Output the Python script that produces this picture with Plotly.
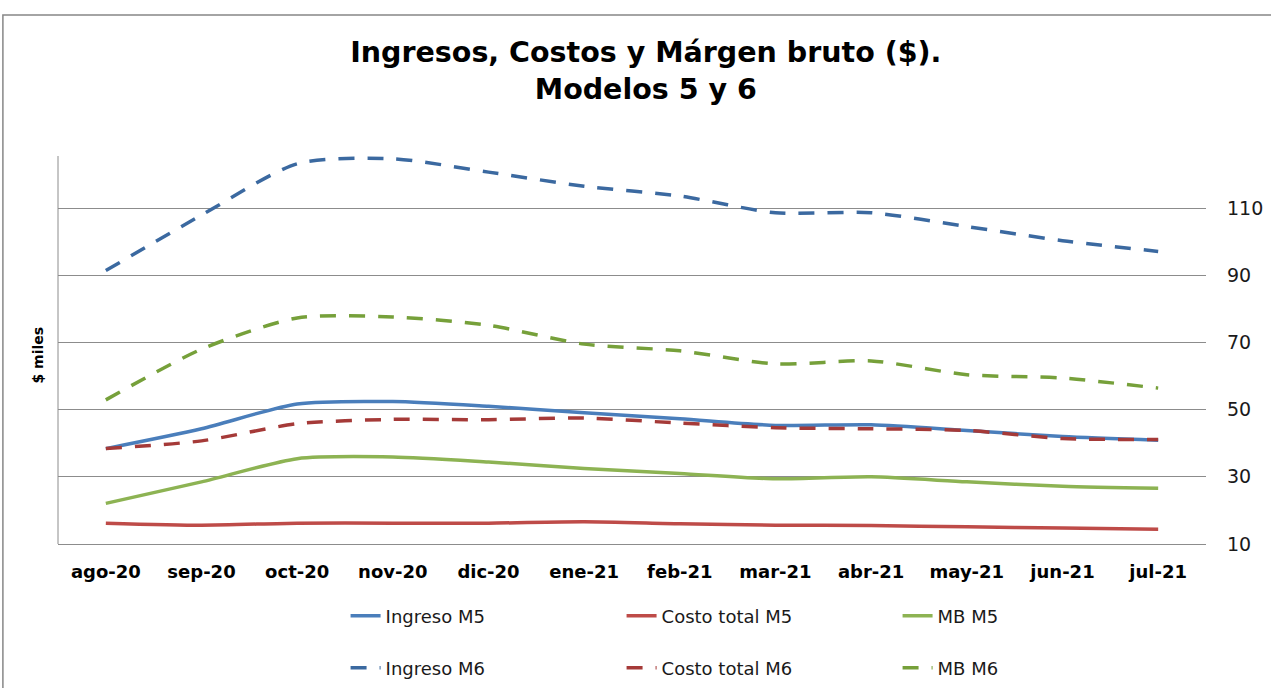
import plotly.graph_objects as go

months = ["ago-20", "sep-20", "oct-20", "nov-20", "dic-20", "ene-21",
          "feb-21", "mar-21", "abr-21", "may-21", "jun-21", "jul-21"]

ingreso_m5 = [38.4, 44.3, 51.7, 52.4, 51.0, 49.1, 47.3, 45.3, 45.5, 43.8, 42.0, 40.9]
costo_m5 = [16.2, 15.6, 16.2, 16.2, 16.2, 16.6, 16.0, 15.6, 15.5, 15.1, 14.8, 14.4]
mb_m5 = [22.1, 28.5, 35.4, 35.9, 34.4, 32.5, 31.0, 29.4, 30.0, 28.5, 27.2, 26.6]
ingreso_m6 = [91.4, 107.9, 123.2, 124.7, 120.7, 116.5, 113.6, 108.6, 108.6, 104.5, 100.3, 97.1]
costo_m6 = [38.4, 40.7, 45.8, 47.1, 47.0, 47.5, 46.0, 44.6, 44.3, 43.8, 41.4, 41.1]
mb_m6 = [52.9, 68.0, 77.3, 77.6, 75.1, 69.5, 67.5, 63.6, 64.5, 60.4, 59.4, 56.4]

y_ticks = [10, 30, 50, 70, 90, 110]

FONT = "DejaVu Sans"
DASH = "16px,13px"

series = [
    ("Ingreso M5", ingreso_m5, "#4A7EBB", "solid", "legend"),
    ("Costo total M5", costo_m5, "#BE4B48", "solid", "legend"),
    ("MB M5", mb_m5, "#8DB353", "solid", "legend"),
    ("Ingreso M6", ingreso_m6, "#3B69A0", DASH, "legend2"),
    ("Costo total M6", costo_m6, "#A53A38", DASH, "legend2"),
    ("MB M6", mb_m6, "#76A03A", DASH, "legend2"),
]

fig = go.Figure()
for name, vals, color, dash, leg in series:
    fig.add_trace(go.Scatter(
        x=months, y=vals, name=name, mode="lines",
        line=dict(color=color, width=3.5, dash=dash, shape="spline", smoothing=0.7),
        legend=leg,
    ))

legend_common = dict(
    orientation="h", entrywidth=231, entrywidthmode="pixels",
    font=dict(family=FONT, size=18, color="#1a1a1a"),
    bgcolor="rgba(0,0,0,0)", xanchor="left", yanchor="middle",
    traceorder="normal",
)

fig.update_layout(
    width=1271, height=688,
    margin=dict(l=58, r=65, t=156, b=144, autoexpand=False),
    paper_bgcolor="white", plot_bgcolor="white",
    title=dict(
        text="Ingresos, Costos y Márgen bruto ($).<br>Modelos 5 y 6",
        x=0.512, xref="paper", xanchor="center",
        y=0.910, yref="container", yanchor="top",
        font=dict(family=FONT, size=28.5, color="black", weight="bold"),
    ),
    xaxis=dict(
        type="category", range=[-0.5, 11.5], showgrid=False,
        showline=True, linecolor="#8c8c8c", linewidth=1,
        tickfont=dict(family=FONT, size=18, color="black", weight="bold"),
        ticks="", ticklabelstandoff=11,
    ),
    yaxis=dict(
        side="right", range=[10, 125.5], tickvals=y_ticks,
        showgrid=True, gridcolor="#8c8c8c", gridwidth=1,
        zeroline=False, showline=False, ticks="",
        tickfont=dict(family=FONT, size=19, color="#1a1a1a"),
        ticklabelstandoff=20,
    ),
    legend=dict(x=0.2505, y=-0.1856, **legend_common),
    legend2=dict(x=0.2505, y=-0.3196, **legend_common),
    showlegend=True,
)

# left vertical axis line
fig.add_shape(type="line", xref="paper", yref="paper", x0=0, x1=0, y0=0, y1=1,
              line=dict(color="#8c8c8c", width=1))
# outer chart border (extends beyond the visible canvas at right/bottom)
fig.add_shape(type="rect", xref="paper", yref="paper",
              x0=-0.048, x1=1.3, y0=-0.6, y1=1.3634,
              line=dict(color="#878787", width=1.5), fillcolor="rgba(0,0,0,0)")

fig.add_annotation(
    text="$ miles", textangle=-90, showarrow=False,
    xref="paper", yref="paper", x=-0.017, y=0.487,
    xanchor="center", yanchor="middle",
    font=dict(family=FONT, size=14, color="black", weight="bold"),
)

fig.write_html("out.html", config={"displayModeBar": False},
               post_script="document.body.style.margin='0';")
